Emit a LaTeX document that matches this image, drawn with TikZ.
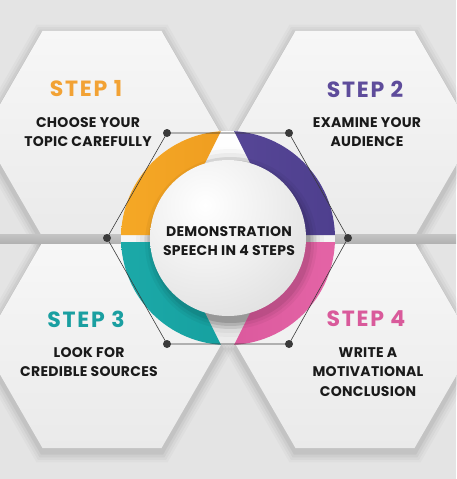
\documentclass[tikz,border=0pt]{standalone}
\usepackage{fontspec}
\setmainfont{Poppins}
\newfontfamily\stepfont{Poppins}[LetterSpace=8]
\newfontfamily\bodyfont{Poppins}[LetterSpace=2]
\definecolor{bg}{HTML}{E4E4E4}
\definecolor{hexT}{HTML}{F7F7F7}
\definecolor{hexB}{HTML}{EAEAEA}
\definecolor{bandT}{HTML}{C4C4C4}
\definecolor{bandB}{HTML}{B2B2B2}
\definecolor{orngL}{HTML}{F5A826}
\definecolor{orngD}{HTML}{E9921A}
\definecolor{purpL}{HTML}{5F4E9F}
\definecolor{purpD}{HTML}{4E3F8E}
\definecolor{tealL}{HTML}{1CA9A8}
\definecolor{tealD}{HTML}{0F9797}
\definecolor{pinkL}{HTML}{E464A6}
\definecolor{pinkD}{HTML}{D24E94}
\definecolor{orngT}{HTML}{F2A234}
\definecolor{purpT}{HTML}{5E4C9B}
\definecolor{tealT}{HTML}{1A9FA1}
\definecolor{pinkT}{HTML}{D95A9B}
\definecolor{txt}{HTML}{1A1A1A}
\definecolor{dotc}{HTML}{3A3A3A}
\begin{document}
\begin{tikzpicture}[x=1pt,y=-1pt,
  hexfill/.style={top color=hexT, bottom color=hexB},
  steptitle/.style={font=\stepfont\fontsize{22}{24}\selectfont\bfseries, anchor=center, inner sep=0pt},
  bodytext/.style={font=\bodyfont\fontsize{14}{19.5}\selectfont\bfseries, align=center, text=txt, inner sep=0pt},
  dotnode/.style={circle, fill=dotc, inner sep=0pt, minimum size=8pt},
  outl/.style={draw=dotc, line width=0.6pt},
]
\useasboundingbox (0,0) rectangle (456,479);
\fill[bg] (0,0) rectangle (456,479);

% hexagon shadows
\foreach \cx/\cy in {102/134, 355/134, 102/345, 355/345} {
  \foreach \k/\o in {12/0.025, 9/0.03, 6/0.04, 3/0.05} {
    \fill[black, opacity=\o] ({\cx+119+\k},{\cy+4}) -- ++(120:{119+\k}) -- ++(180:{119+\k})
      -- ++(240:{119+\k}) -- ++(300:{119+\k}) -- ++(0:{119+\k}) -- cycle;
  }
}
% hexagons
\foreach \cx/\cy in {102/134, 355/134, 102/345, 355/345} {
  \shade[hexfill] ({\cx+119},{\cy}) -- ++(120:119) -- ++(180:119)
      -- ++(240:119) -- ++(300:119) -- ++(0:119) -- cycle;
}
% horizontal band
\shade[top color=bandT, bottom color=bandB] (0,234) rectangle (456,243);

% ring
\coordinate (C) at (228,238);
\shade[top color=white, bottom color=white!92!black] (C) circle (107);
\foreach \k/\o in {16/0.03, 12/0.04, 8/0.05, 5/0.06, 2/0.07} {
  \fill[black, opacity=\o] (230,243) circle ({78+\k});
}
\begin{scope}
  \clip (0,0) -- (286.5,0) -- (169,235) -- (0,235) -- cycle;
  \shade[left color=orngL, right color=orngD] (C) circle (107);
\end{scope}
\begin{scope}
  \clip (168.5,0) -- (456,0) -- (456,235) -- (286,235) -- cycle;
  \shade[left color=purpL, right color=purpD] (C) circle (107);
\end{scope}
\begin{scope}
  \clip (0,242) -- (169.5,242) -- (288,479) -- (0,479) -- cycle;
  \shade[left color=tealL, right color=tealD] (C) circle (107);
\end{scope}
\begin{scope}
  \clip (285.5,242) -- (456,242) -- (456,479) -- (167,479) -- cycle;
  \shade[left color=pinkD, right color=pinkL] (C) circle (107);
\end{scope}

% ball
\foreach \k/\o in {8/0.04, 5/0.05, 2/0.07} {
  \fill[black, opacity=\o] (231,243) circle ({78+\k});
}
\begin{scope}
  \clip (C) circle (78);
  \shade[inner color=white, outer color=black!22] (205,205) circle (230);
\end{scope}

% outline hexagon with dots
\node[dotnode] (d1) at (167,133) {};
\node[dotnode] (d2) at (289,133) {};
\node[dotnode] (d3) at (348,238) {};
\node[dotnode] (d4) at (289,344) {};
\node[dotnode] (d5) at (167,344) {};
\node[dotnode] (d6) at (107,238) {};
\draw[outl] (d1.center) -- (d2.center) -- (d3.center) -- (d4.center) -- (d5.center) -- (d6.center) -- cycle;

% texts
\node[steptitle, text=orngT] (s1) at (86,89) {STEP 1};
\node[bodytext] (t1) at (88,132) {CHOOSE YOUR\\TOPIC CAREFULLY};
\node[steptitle, text=purpT] (s2) at (365,89) {STEP 2};
\node[bodytext] (t2) at (367,132) {EXAMINE YOUR\\AUDIENCE};
\node[bodytext] (ctr) at (229,241) {DEMONSTRATION\\SPEECH IN 4 STEPS};
\node[steptitle, text=tealT] (s3) at (86,319) {STEP 3};
\node[bodytext] (t3) at (89,362) {LOOK FOR\\CREDIBLE SOURCES};
\node[steptitle, text=pinkT] (s4) at (366,319) {STEP 4};
\node[bodytext] (t4) at (368,372) {WRITE A\\MOTIVATIONAL\\CONCLUSION};
\end{tikzpicture}
\end{document}
